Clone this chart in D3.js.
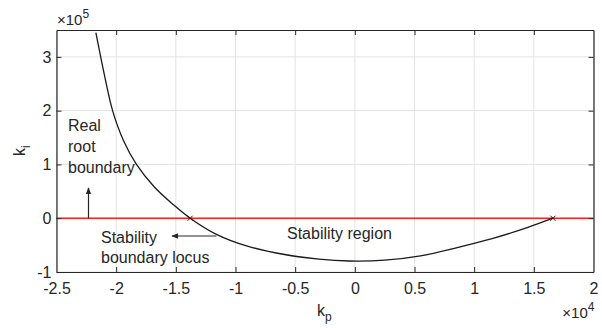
<!DOCTYPE html>
<html>
<head>
<meta charset="utf-8">
<script src="https://cdn.jsdelivr.net/npm/d3@7"></script>
<style>
  body { margin: 0; background: #fff; }
  text { font-family: "Liberation Sans", Arial, sans-serif; fill: #262626; }
</style>
</head>
<body>
<div id="chart"></div>
<script>

// stability boundary locus, kp in 1e4, ki in 1e5
var kpValues = [-2.17, -2.10, -2.03, -1.94, -1.83, -1.68, -1.52, -1.38, -1.16, -0.90,
                -0.60, -0.30, -0.05, 0.25, 0.55, 0.85, 1.15, 1.45, 1.66];
var kiValues = [3.45, 2.68, 2.0, 1.45, 1.0, 0.58, 0.25, 0.0, -0.30, -0.52,
                -0.67, -0.76, -0.795, -0.78, -0.70, -0.55, -0.38, -0.17, 0.0];

// crossing points with ki = 0
var crossKp = [-1.38, 1.66];

var xTicks = [-2.5, -2, -1.5, -1, -0.5, 0, 0.5, 1, 1.5, 2];
var yTicks = [-1, 0, 1, 2, 3];

var width = 602,
    height = 328,
    margin = {top: 30, right: 8.5, bottom: 56, left: 56.5};

var svg = d3.select("#chart")
    .append("svg")
    .attr("width", width)
    .attr("height", height);

var defs = svg.append("defs");
defs.append("marker")
    .attr("id", "arrow")
    .attr("viewBox", "0 0 10 10")
    .attr("refX", 9)
    .attr("refY", 5)
    .attr("markerWidth", 7)
    .attr("markerHeight", 7)
    .attr("markerUnits", "userSpaceOnUse")
    .attr("orient", "auto")
    .append("path")
    .attr("d", "M0,1 L10,5 L0,9 Z")
    .attr("fill", "#262626");

// scales
var xScale = d3.scaleLinear()
    .domain([-2.5, 2])
    .range([margin.left, width - margin.right]);

var yScale = d3.scaleLinear()
    .domain([-1, 3.5])
    .range([height - margin.bottom, margin.top]);

var x0 = xScale.range()[0], x1 = xScale.range()[1];
var y0 = yScale.range()[0], y1 = yScale.range()[1];

// hyphen minus like the original
var fmt = function(d) { return d3.format("~g")(d).replace("\u2212", "-"); };

// grid
svg.append("g")
    .selectAll("line")
    .data(xTicks)
    .enter().append("line")
    .attr("x1", function(d) { return xScale(d); })
    .attr("x2", function(d) { return xScale(d); })
    .attr("y1", y0)
    .attr("y2", y1)
    .attr("stroke", "#e3e3e3")
    .attr("stroke-width", 1);

svg.append("g")
    .selectAll("line")
    .data(yTicks)
    .enter().append("line")
    .attr("x1", x0)
    .attr("x2", x1)
    .attr("y1", function(d) { return yScale(d); })
    .attr("y2", function(d) { return yScale(d); })
    .attr("stroke", "#e3e3e3")
    .attr("stroke-width", 1);

// red real root boundary at ki = 0
svg.append("line")
    .attr("x1", x0)
    .attr("x2", x1)
    .attr("y1", yScale(0))
    .attr("y2", yScale(0))
    .attr("stroke", "#ff2020")
    .attr("stroke-width", 1.5);

// stability boundary locus
var line = d3.line()
    .x(function(d, i) { return xScale(kpValues[i]); })
    .y(function(d) { return yScale(d); })
    .curve(d3.curveCatmullRom.alpha(0.5));

svg.append("path")
    .datum(kiValues)
    .attr("d", line)
    .attr("fill", "none")
    .attr("stroke", "#1a1a1a")
    .attr("stroke-width", 1.3);

// small cross markers
crossKp.forEach(function(k) {
  var cx = xScale(k), cy = yScale(0);
  svg.append("path")
     .attr("d", "M" + (cx - 2.5) + "," + (cy - 2.5) + "L" + (cx + 2.5) + "," + (cy + 2.5) +
                "M" + (cx - 2.5) + "," + (cy + 2.5) + "L" + (cx + 2.5) + "," + (cy - 2.5))
     .attr("stroke", "#1a1a1a")
     .attr("stroke-width", 1);
});

// axes, ticks inside (matlab style)
var xAxisB = d3.axisBottom(xScale).tickValues(xTicks).tickSizeInner(-5).tickSizeOuter(0)
    .tickPadding(11).tickFormat(fmt);
var xAxisT = d3.axisTop(xScale).tickValues(xTicks).tickSizeInner(-5).tickSizeOuter(0)
    .tickFormat("");
var yAxisL = d3.axisLeft(yScale).tickValues(yTicks).tickSizeInner(-5).tickSizeOuter(0)
    .tickPadding(5).tickFormat(fmt);
var yAxisR = d3.axisRight(yScale).tickValues(yTicks).tickSizeInner(-5).tickSizeOuter(0)
    .tickFormat("");

var gXB = svg.append("g").attr("transform", "translate(0," + y0 + ")").call(xAxisB);
var gXT = svg.append("g").attr("transform", "translate(0," + y1 + ")").call(xAxisT);
var gYL = svg.append("g").attr("transform", "translate(" + x0 + ",0)").call(yAxisL);
var gYR = svg.append("g").attr("transform", "translate(" + x1 + ",0)").call(yAxisR);

[gXB, gXT, gYL, gYR].forEach(function(g) {
  g.select(".domain").attr("stroke", "#262626").attr("stroke-width", 1.2);
  g.selectAll(".tick line").attr("stroke", "#262626").attr("stroke-width", 1);
  g.selectAll(".tick text")
   .attr("font-size", "16px")
   .attr("font-family", "Liberation Sans, Arial, sans-serif")
   .attr("fill", "#262626");
});
// end ticks sit on the box
gXT.selectAll(".tick").filter(function(d) { return d === -2.5 || d === 2; }).remove();
gXB.selectAll(".tick line").filter(function(d) { return d === -2.5 || d === 2; }).remove();

// exponent labels
var expX = svg.append("text")
    .attr("x", x1 + 1)
    .attr("y", 318)
    .attr("text-anchor", "end")
    .attr("font-size", "15px");
expX.append("tspan").text("\u00d710");
expX.append("tspan").attr("dy", -7).attr("font-size", "12px").text("4");

var expY = svg.append("text")
    .attr("x", 57)
    .attr("y", 25)
    .attr("font-size", "15px");
expY.append("tspan").text("\u00d710");
expY.append("tspan").attr("dy", -7).attr("font-size", "12px").text("5");

// axis labels
var xl = svg.append("text")
    .attr("x", 317)
    .attr("y", 316)
    .attr("font-size", "16px");
xl.append("tspan").text("k");
xl.append("tspan").attr("dy", 5).attr("font-size", "12px").text("p");

var yl = svg.append("text")
    .attr("transform", "translate(25,156) rotate(-90)")
    .attr("font-size", "16px");
yl.append("tspan").text("k");
yl.append("tspan").attr("dy", 5).attr("font-size", "12px").text("i");

// annotations
svg.append("text")
   .attr("x", 287)
   .attr("y", 239)
   .attr("font-size", "16px")
   .text("Stability region");

var sbl = svg.append("text").attr("font-size", "16px");
sbl.append("tspan").attr("x", 101).attr("y", 243).text("Stability");
sbl.append("tspan").attr("x", 101).attr("y", 263).text("boundary locus");

var rrb = svg.append("text").attr("font-size", "16px");
rrb.append("tspan").attr("x", 68).attr("y", 131).text("Real");
rrb.append("tspan").attr("x", 68).attr("y", 152).text("root");
rrb.append("tspan").attr("x", 68).attr("y", 173).text("boundary");

// arrows
svg.append("line")
   .attr("x1", xScale(-1.16)).attr("y1", 236)
   .attr("x2", 172).attr("y2", 236)
   .attr("stroke", "#262626").attr("stroke-width", 1.2)
   .attr("marker-end", "url(#arrow)");

svg.append("line")
   .attr("x1", 88.5).attr("y1", yScale(0))
   .attr("x2", 88.5).attr("y2", 188)
   .attr("stroke", "#262626").attr("stroke-width", 1.2)
   .attr("marker-end", "url(#arrow)");

</script>
</body>
</html>
